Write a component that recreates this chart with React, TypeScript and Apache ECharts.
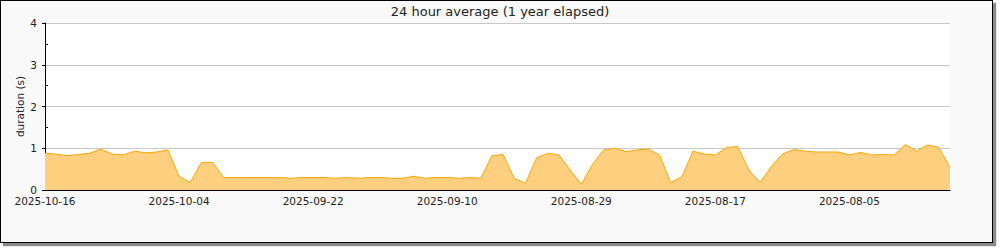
import React, { useEffect, useRef } from "react";
import * as echarts from "echarts";

const TITLE = "24 hour average (1 year elapsed)";
const Y_NAME = "duration (s)";

// x positions are days before 2025-10-16 (axis runs backwards in time)
const xTickDays = [0, 6, 12, 18, 24, 30, 36, 42, 48, 54, 60, 66, 72, 78];
const xLabelDays = [0, 12, 24, 36, 48, 60, 72];
const xLabels = ["2025-10-16", "2025-10-04", "2025-09-22", "2025-09-10", "2025-08-29", "2025-08-17", "2025-08-05"];
const yMinorTicks = [0.5, 1.5, 2.5, 3.5];

// one average per day, day 0 = 2025-10-16 ... day 81 = 2025-07-27
const durations = [
  0.88, 0.86, 0.82, 0.85, 0.88, 0.98, 0.86, 0.84, 0.93, 0.89,
  0.91, 0.96, 0.33, 0.18, 0.66, 0.66, 0.30, 0.30, 0.30, 0.30,
  0.30, 0.30, 0.28, 0.30, 0.30, 0.30, 0.28, 0.30, 0.28, 0.30,
  0.30, 0.28, 0.28, 0.33, 0.28, 0.30, 0.30, 0.28, 0.30, 0.28,
  0.82, 0.85, 0.28, 0.16, 0.77, 0.88, 0.84, 0.48, 0.14, 0.61,
  0.96, 1.00, 0.92, 0.96, 0.98, 0.84, 0.18, 0.32, 0.93, 0.86,
  0.84, 1.02, 1.04, 0.48, 0.18, 0.56, 0.86, 0.97, 0.93, 0.91,
  0.91, 0.91, 0.84, 0.90, 0.84, 0.85, 0.84, 1.09, 0.93, 1.08,
  1.02, 0.54,
];

const FONT = "DejaVu Sans";
const TEXT = "#222";

export default function App() {
  const ref = useRef<HTMLDivElement>(null);

  useEffect(() => {
    document.body.style.margin = "0";
    const chart = echarts.init(ref.current!, null, { renderer: "svg" });
    chart.setOption({
      animation: false,
      backgroundColor: "transparent",
      textStyle: { fontFamily: FONT },
      title: {
        text: TITLE,
        left: "center",
        top: 0,
        textStyle: { fontFamily: FONT, fontSize: 13, fontWeight: "normal", color: TEXT },
      },
      grid: {
        left: 45,
        right: 50,
        top: 23,
        bottom: 60,
        show: true,
        backgroundColor: "#ffffff",
        borderWidth: 0,
      },
      xAxis: {
        type: "value",
        min: 0,
        max: 81,
        axisLine: { show: true, lineStyle: { color: "#000", width: 1 } },
        axisTick: { show: true, inside: true, length: 5, customValues: xTickDays, lineStyle: { color: "#000" } },
        axisLabel: {
          customValues: xLabelDays,
          formatter: (v: number) => xLabels[xLabelDays.indexOf(Math.round(v))] ?? "",
          fontFamily: FONT,
          fontSize: 10.5,
          lineHeight: 11,
          color: TEXT,
          margin: 5,
        },
        splitLine: { show: false },
      },
      yAxis: [
        {
          type: "value",
          min: 0,
          max: 4,
          interval: 1,
          name: Y_NAME,
          nameLocation: "middle",
          nameGap: 20,
          nameMoveOverlap: false,
          nameTextStyle: { fontFamily: FONT, fontSize: 10.5, color: TEXT },
          axisLine: { show: true, lineStyle: { color: "#000", width: 1 } },
          axisTick: { show: true, inside: false, length: 3, lineStyle: { color: "#000" } },
          axisLabel: { fontFamily: FONT, fontSize: 10.5, lineHeight: 8, color: TEXT, margin: 8 },
          splitLine: { show: true, lineStyle: { color: "#c8c8c8", width: 1 } },
        },
        {
          type: "value",
          min: 0,
          max: 4,
          position: "left",
          axisLine: { show: false },
          axisTick: { show: true, inside: true, length: 3, customValues: yMinorTicks, lineStyle: { color: "#000" } },
          axisLabel: { show: false },
          splitLine: { show: false },
        },
      ],
      series: [
        {
          type: "line",
          data: durations.map((v, i) => [i, v]),
          showSymbol: false,
          symbol: "none",
          lineStyle: { color: "#ffa500", width: 1 },
          areaStyle: { color: "#fecf7e", opacity: 1 },
          z: 3,
        },
      ],
    });
    return () => chart.dispose();
  }, []);

  return (
    <div style={{ position: "relative", width: 1000, height: 250 }}>
      <div
        style={{
          position: "absolute",
          left: 0,
          top: 0,
          width: 993,
          height: 243,
          boxSizing: "border-box",
          border: "1px solid #000",
          background: "#f9f9f9",
          boxShadow: "3px 3px 1px #8a8a8a",
        }}
      />
      <div ref={ref} style={{ position: "absolute", left: 0, top: 0, width: 1000, height: 250 }} />
    </div>
  );
}
